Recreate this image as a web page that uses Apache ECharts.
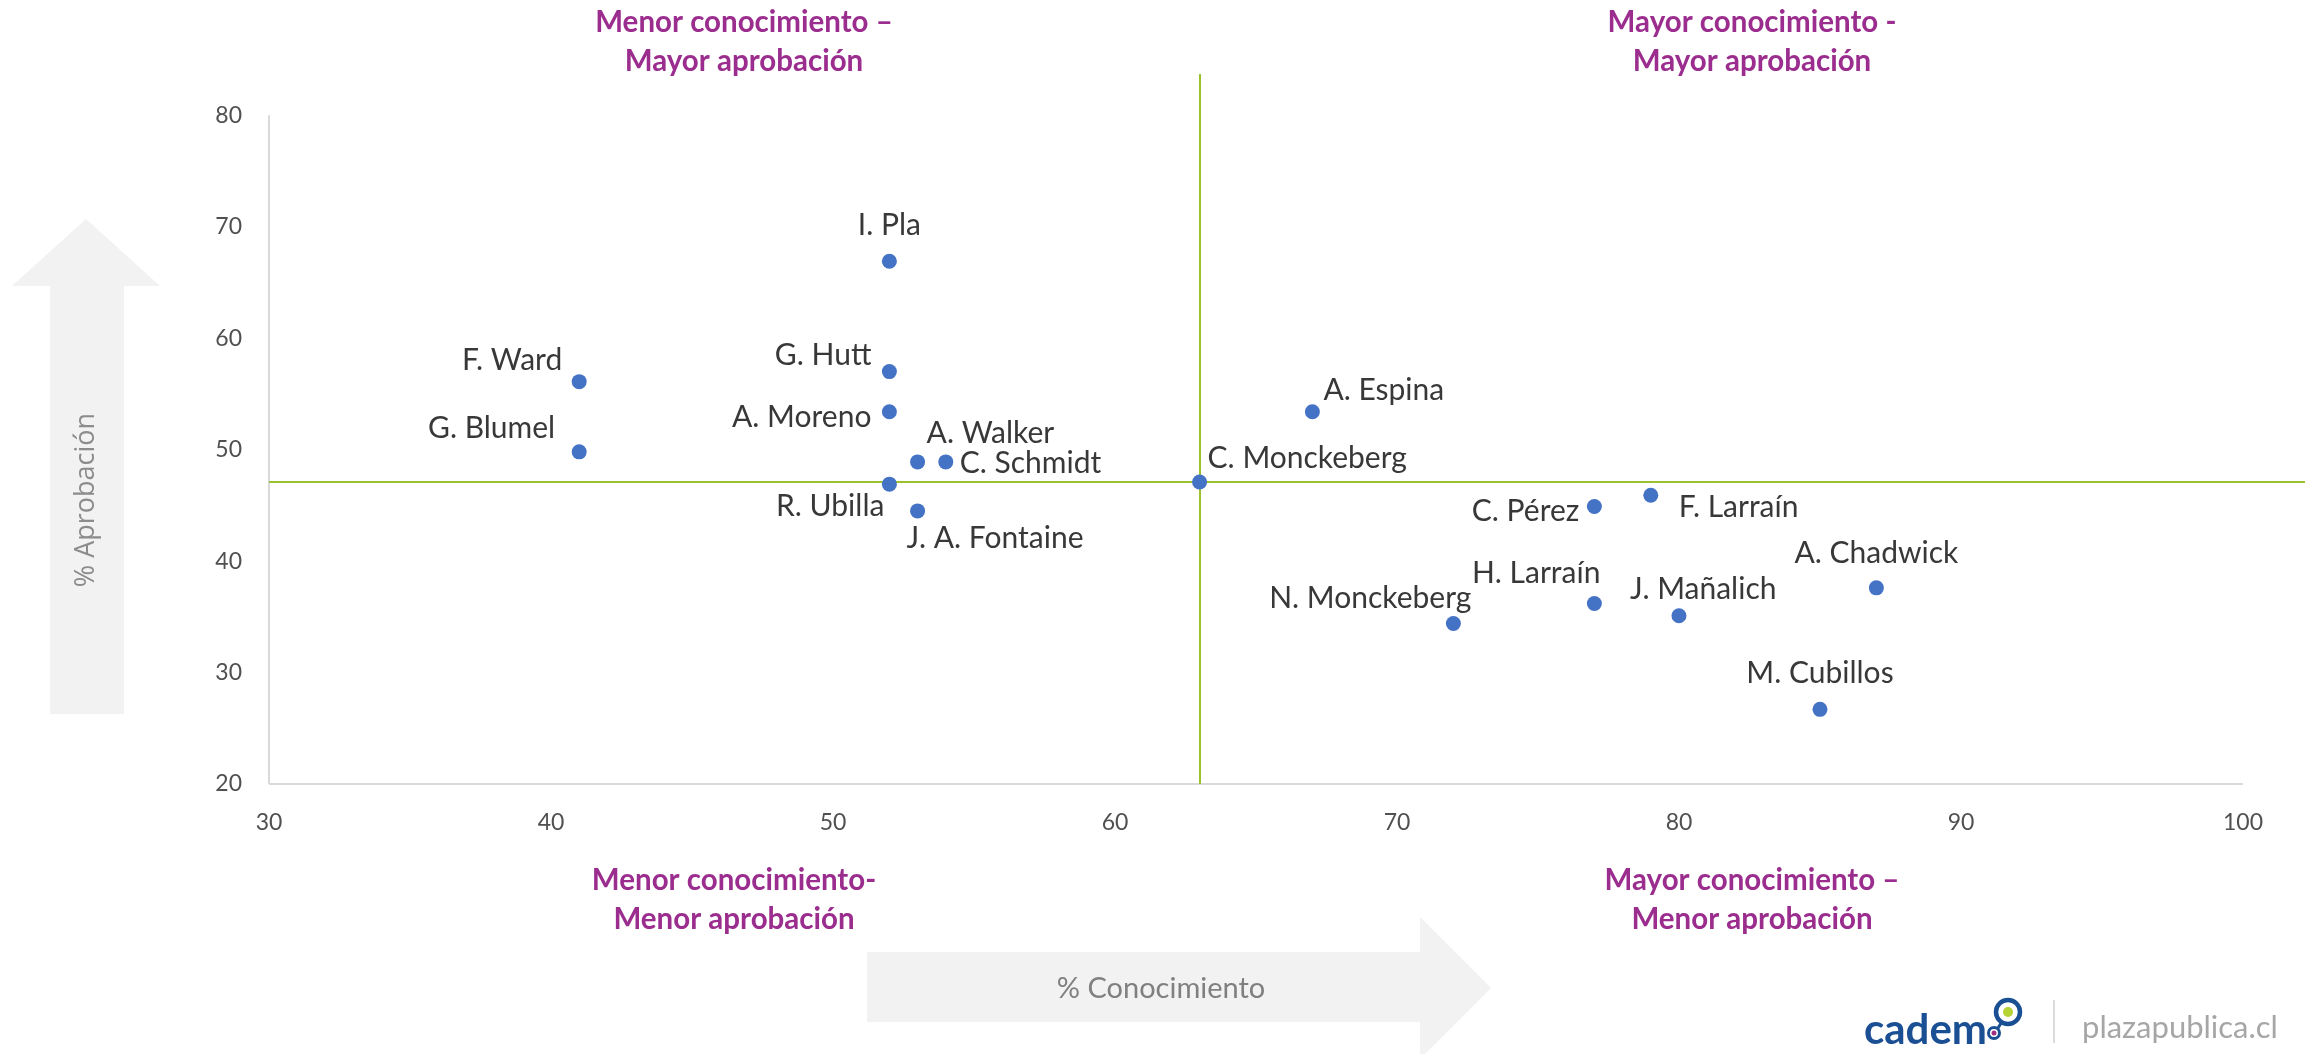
<!DOCTYPE html>
<html>
<head>
<meta charset="utf-8">
<title>Conocimiento vs Aprobación</title>
<script src="https://cdn.jsdelivr.net/npm/echarts@6/dist/echarts.min.js"></script>
<style>
  html, body { margin: 0; padding: 0; background: #fff; }
  #chart { width: 2308px; height: 1054px; }
</style>
</head>
<body>
<div id="chart"></div>
<script>
// datos
const names = ['I. Pla', 'F. Ward', 'G. Blumel', 'G. Hutt', 'A. Moreno', 'A. Walker', 'C. Schmidt',
  'R. Ubilla', 'J. A. Fontaine', 'C. Monckeberg', 'A. Espina', 'C. Pérez', 'F. Larraín',
  'A. Chadwick', 'N. Monckeberg', 'H. Larraín', 'J. Mañalich', 'M. Cubillos']
const conocimiento = [52, 41, 41, 52, 52, 53, 54, 52, 53, 63, 67, 77, 79, 87, 72, 77, 80, 85]
const aprobacion = [66.9, 56.1, 49.8, 57.0, 53.4, 48.9, 48.9, 46.9, 44.5, 47.1, 53.4, 44.9, 45.9,
  37.6, 34.4, 36.2, 35.1, 26.7]

// lineas de referencia
const refX = 63
const refY = 47.1

const xTicks = [30, 40, 50, 60, 70, 80, 90, 100]
const yTicks = [20, 30, 40, 50, 60, 70, 80]

// ubicacion de etiquetas: [align, dx, dy] respecto al punto
const labelLayout = [
  ['center', 0, -36], ['right', -17, -21], ['right', -24, -24], ['right', -18, -16],
  ['right', -18, 6], ['left', 9, -29], ['left', 14, 1], ['right', -5, 22],
  ['left', -11, 27], ['left', 8, -24], ['left', 11, -21], ['right', -15, 5],
  ['left', 28, 12], ['center', 0, -35], ['right', 18, -25], ['right', 6, -30],
  ['left', -49, -26], ['center', 0, -36]
]

const xMax = 102.2
const yMax = 83.7
const PURPLE = '#9B2D8E'
const GREEN = '#9BC22E'
const AXIS_GRAY = '#d9d9d9'
const ARROW = '#f2f2f2'

const chart = echarts.init(document.getElementById('chart'))

const quadrantText = (text, x, y) => ({
  type: 'text',
  x, y,
  style: {
    text,
    align: 'center',
    verticalAlign: 'middle',
    lineHeight: 39,
    fontFamily: 'Lato',
    fontWeight: 'bold',
    fontSize: 29.5,
    fill: PURPLE
  }
})

const option = {
  animation: false,
  backgroundColor: '#fff',
  grid: { left: 269, right: 0, top: 74, bottom: 270, containLabel: false },
  xAxis: {
    type: 'value',
    min: xTicks[0],
    max: xMax,
    interval: 10,
    axisLine: { show: false },
    axisTick: { show: false },
    splitLine: { show: false },
    axisLabel: {
      margin: 27,
      color: '#505050',
      fontFamily: 'Lato',
      fontSize: 23,
      formatter: v => (xTicks.indexOf(v) >= 0 ? String(v) : '')
    }
  },
  yAxis: {
    type: 'value',
    min: yTicks[0],
    max: yMax,
    interval: 10,
    axisLine: { show: false },
    axisTick: { show: false },
    splitLine: { show: false },
    axisLabel: {
      margin: 27,
      color: '#505050',
      fontFamily: 'Lato',
      fontSize: 23,
      formatter: v => (yTicks.indexOf(v) >= 0 ? String(v) : '')
    }
  },
  series: [
    {
      type: 'scatter',
      symbolSize: 15,
      itemStyle: { color: '#4472C4', opacity: 1 },
      z: 3,
      label: {
        show: true,
        position: 'inside',
        formatter: '{b}',
        color: '#383838',
        fontFamily: 'Lato',
        fontSize: 30,
        verticalAlign: 'middle',
        textBorderWidth: 0,
        textBorderColor: 'transparent'
      },
      data: names.map((n, i) => ({
        name: n,
        value: [conocimiento[i], aprobacion[i]],
        label: { align: labelLayout[i][0], offset: [labelLayout[i][1], labelLayout[i][2]] }
      })),
      markLine: {
        silent: true,
        symbol: 'none',
        z: 1,
        label: { show: false },
        lineStyle: { type: 'solid' },
        data: [
          [{ coord: [xTicks[0], yTicks[0]], lineStyle: { color: AXIS_GRAY, width: 2 } },
           { coord: [xTicks[xTicks.length - 1], yTicks[0]] }],
          [{ coord: [xTicks[0], yTicks[0]], lineStyle: { color: AXIS_GRAY, width: 2 } },
           { coord: [xTicks[0], yTicks[yTicks.length - 1]] }],
          { xAxis: refX, lineStyle: { color: GREEN, width: 2 } },
          { yAxis: refY, lineStyle: { color: GREEN, width: 2 } }
        ]
      }
    }
  ],
  graphic: [
    // flecha vertical
    {
      type: 'polygon',
      z: -10,
      shape: { points: [[50, 714], [50, 286], [12, 286], [86, 219], [160, 286], [124, 286], [124, 714]] },
      style: { fill: ARROW }
    },
    {
      type: 'text',
      x: 86, y: 500,
      rotation: Math.PI / 2,
      style: {
        text: '% Aprobación',
        align: 'center',
        verticalAlign: 'middle',
        fontFamily: 'Open Sans',
        fontSize: 27,
        fill: '#8c8c8c'
      }
    },
    // flecha horizontal
    {
      type: 'polygon',
      z: -10,
      shape: { points: [[867, 952], [1420, 952], [1420, 917], [1491, 988], [1420, 1059], [1420, 1022], [867, 1022]] },
      style: { fill: ARROW }
    },
    {
      type: 'text',
      x: 1161, y: 989,
      style: {
        text: '% Conocimiento',
        align: 'center',
        verticalAlign: 'middle',
        fontFamily: 'Lato',
        fontSize: 29,
        fill: '#808080'
      }
    },
    // titulos de cuadrantes
    quadrantText('Menor conocimiento –\nMayor aprobación', 744, 42),
    quadrantText('Mayor conocimiento -\nMayor aprobación', 1752, 42),
    quadrantText('Menor conocimiento-\nMenor aprobación', 734, 900),
    quadrantText('Mayor conocimiento –\nMenor aprobación', 1752, 900),
    // logo
    {
      type: 'text',
      x: 1864, y: 1030,
      style: {
        text: 'cadem',
        align: 'left',
        verticalAlign: 'middle',
        fontFamily: 'Lato',
        fontWeight: 'bold',
        fontSize: 42,
        fill: '#1B4F93'
      }
    },
    {
      type: 'line',
      shape: { x1: 1998, y1: 1028, x2: 2003, y2: 1020 },
      style: { stroke: '#1B4F93', lineWidth: 3 }
    },
    {
      type: 'circle',
      shape: { cx: 1994, cy: 1033, r: 5.5 },
      style: { fill: '#fff', stroke: '#1B4F93', lineWidth: 3 }
    },
    {
      type: 'circle',
      shape: { cx: 1994, cy: 1033, r: 2.5 },
      style: { fill: '#A0307F' }
    },
    {
      type: 'circle',
      shape: { cx: 2008, cy: 1012, r: 12 },
      style: { fill: '#fff', stroke: '#1B4F93', lineWidth: 4.5 }
    },
    {
      type: 'circle',
      shape: { cx: 2008, cy: 1012, r: 5 },
      style: { fill: '#B5D334' }
    },
    {
      type: 'line',
      shape: { x1: 2054, y1: 1000, x2: 2054, y2: 1043 },
      style: { stroke: '#cfcfcf', lineWidth: 1.5 }
    },
    {
      type: 'text',
      x: 2082, y: 1028,
      style: {
        text: 'plazapublica.cl',
        align: 'left',
        verticalAlign: 'middle',
        fontFamily: 'Lato',
        fontSize: 31,
        fill: '#a6a6a6'
      }
    }
  ]
}

chart.setOption(option)
window.addEventListener('resize', () => chart.resize())
</script>
</body>
</html>
